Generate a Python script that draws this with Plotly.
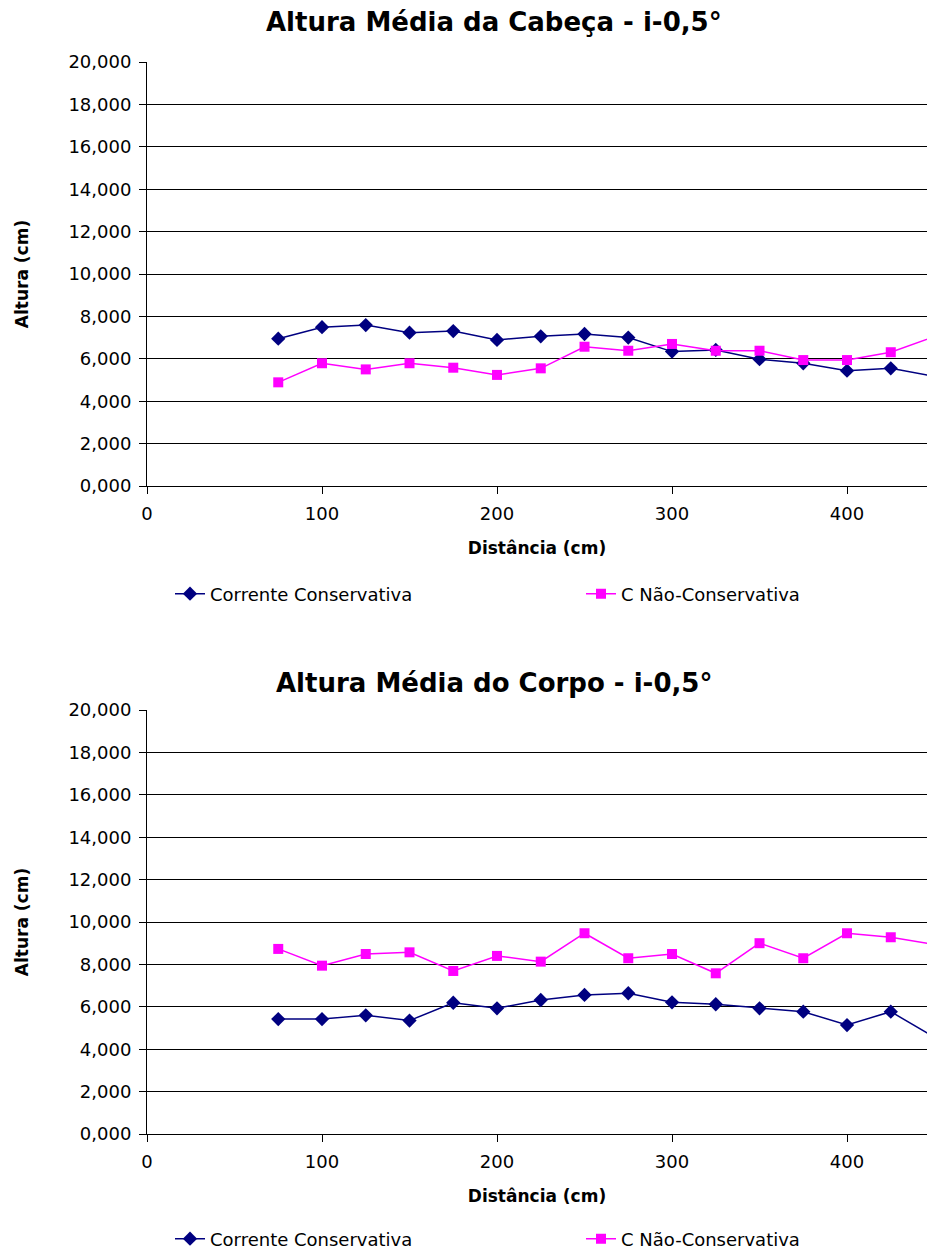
import plotly.graph_objects as go
from plotly.subplots import make_subplots

distancia = [75, 100, 125, 150, 175, 200, 225, 250, 275, 300, 325, 350, 375, 400, 425, 450]

cabeca_conservativa = [6.95, 7.49, 7.59, 7.23, 7.31, 6.89, 7.06, 7.17, 7.00, 6.34, 6.42, 5.98, 5.79, 5.44, 5.55, 5.17]
cabeca_nao_conservativa = [4.89, 5.79, 5.50, 5.79, 5.58, 5.24, 5.55, 6.57, 6.38, 6.70, 6.38, 6.38, 5.94, 5.94, 6.31, 7.05]

corpo_conservativa = [5.42, 5.42, 5.60, 5.35, 6.19, 5.93, 6.32, 6.56, 6.64, 6.21, 6.12, 5.93, 5.77, 5.14, 5.77, 4.56]
corpo_nao_conservativa = [8.73, 7.94, 8.49, 8.57, 7.69, 8.40, 8.13, 9.47, 8.29, 8.49, 7.58, 9.00, 8.29, 9.47, 9.28, 8.94]

titulos = ["Altura Média da Cabeça - i-0,5°", "Altura Média do Corpo - i-0,5°"]
nome_cons = "Corrente Conservativa"
nome_nao = "C Não-Conservativa"

NAVY = "#000080"
MAGENTA = "#FF00FF"
FONT = "DejaVu Sans, Verdana, sans-serif"

W, H = 927, 1251
L = 147

def py(px):
    return 1 - px / H

def pxx(px):
    return (px - L) / (W - L)

fig = make_subplots(rows=2, cols=1)

series = [
    (1, cabeca_conservativa, cabeca_nao_conservativa, "legend", "legend2"),
    (2, corpo_conservativa, corpo_nao_conservativa, "legend3", "legend4"),
]
for row, cons, nao, leg_a, leg_b in series:
    fig.add_trace(go.Scatter(
        x=distancia, y=cons, name=nome_cons, mode="lines+markers",
        line=dict(color=NAVY, width=1.5),
        marker=dict(symbol="diamond", size=11, color=NAVY),
        legend=leg_a, showlegend=True, cliponaxis=True,
    ), row=row, col=1)
    fig.add_trace(go.Scatter(
        x=distancia, y=nao, name=nome_nao, mode="lines+markers",
        line=dict(color=MAGENTA, width=1.5),
        marker=dict(symbol="square", size=10, color=MAGENTA),
        legend=leg_b, showlegend=True, cliponaxis=True,
    ), row=row, col=1)

domains = [(py(486), py(62)), (py(1134), py(710))]

xaxis_common = dict(
    range=[0, 445.7], tickmode="linear", tick0=0, dtick=100,
    showgrid=False, zeroline=False, showline=True, linecolor="black", linewidth=1,
    ticks="outside", ticklen=7, tickcolor="black",
    tickfont=dict(family=FONT, size=18, color="black"),
    ticklabelstandoff=4,
    title=dict(text="<b>Distância (cm)</b>", font=dict(family=FONT, size=17, color="black"), standoff=19),
    automargin=False, domain=[0, 1],
)
yaxis_common = dict(
    range=[0, 20], tickmode="linear", tick0=0, dtick=2, tickformat=".3f",
    showgrid=True, gridcolor="black", gridwidth=1,
    zeroline=False, showline=True, linecolor="black", linewidth=1,
    ticks="outside", ticklen=7, tickcolor="black",
    tickfont=dict(family=FONT, size=18, color="black"),
    ticklabelstandoff=4,
    title=dict(text="<b>Altura (cm)</b>", font=dict(family=FONT, size=17, color="black"), standoff=35),
    automargin=False,
)

fig.update_layout(
    xaxis=dict(**xaxis_common),
    xaxis2=dict(**xaxis_common),
    yaxis=dict(**yaxis_common, domain=list(domains[0])),
    yaxis2=dict(**yaxis_common, domain=list(domains[1])),
)

legend_common = dict(
    orientation="h", xanchor="left", yanchor="middle",
    font=dict(family=FONT, size=18, color="black"),
    bgcolor="rgba(0,0,0,0)", borderwidth=0,
)
fig.update_layout(
    showlegend=True,
    legend=dict(**legend_common, x=pxx(170), y=py(594)),
    legend2=dict(**legend_common, x=pxx(581), y=py(594)),
    legend3=dict(**legend_common, x=pxx(170), y=py(1239)),
    legend4=dict(**legend_common, x=pxx(581), y=py(1239)),
)

for t, ypx in zip(titulos, [22, 683]):
    fig.add_annotation(
        text=f"<b>{t}</b>", x=pxx(494), y=py(ypx), xref="paper", yref="paper",
        xanchor="center", yanchor="middle", showarrow=False,
        font=dict(family=FONT, size=26, color="black"),
    )

fig.update_layout(
    width=W, height=H,
    margin=dict(l=L, r=0, t=0, b=0, autoexpand=False),
    paper_bgcolor="white", plot_bgcolor="white",
    separators=",.",
    font=dict(family=FONT, color="black"),
)

fig.write_html(
    "out.html",
    config={"displayModeBar": False},
    post_script="document.body.style.margin='0';document.body.style.padding='0';",
)
